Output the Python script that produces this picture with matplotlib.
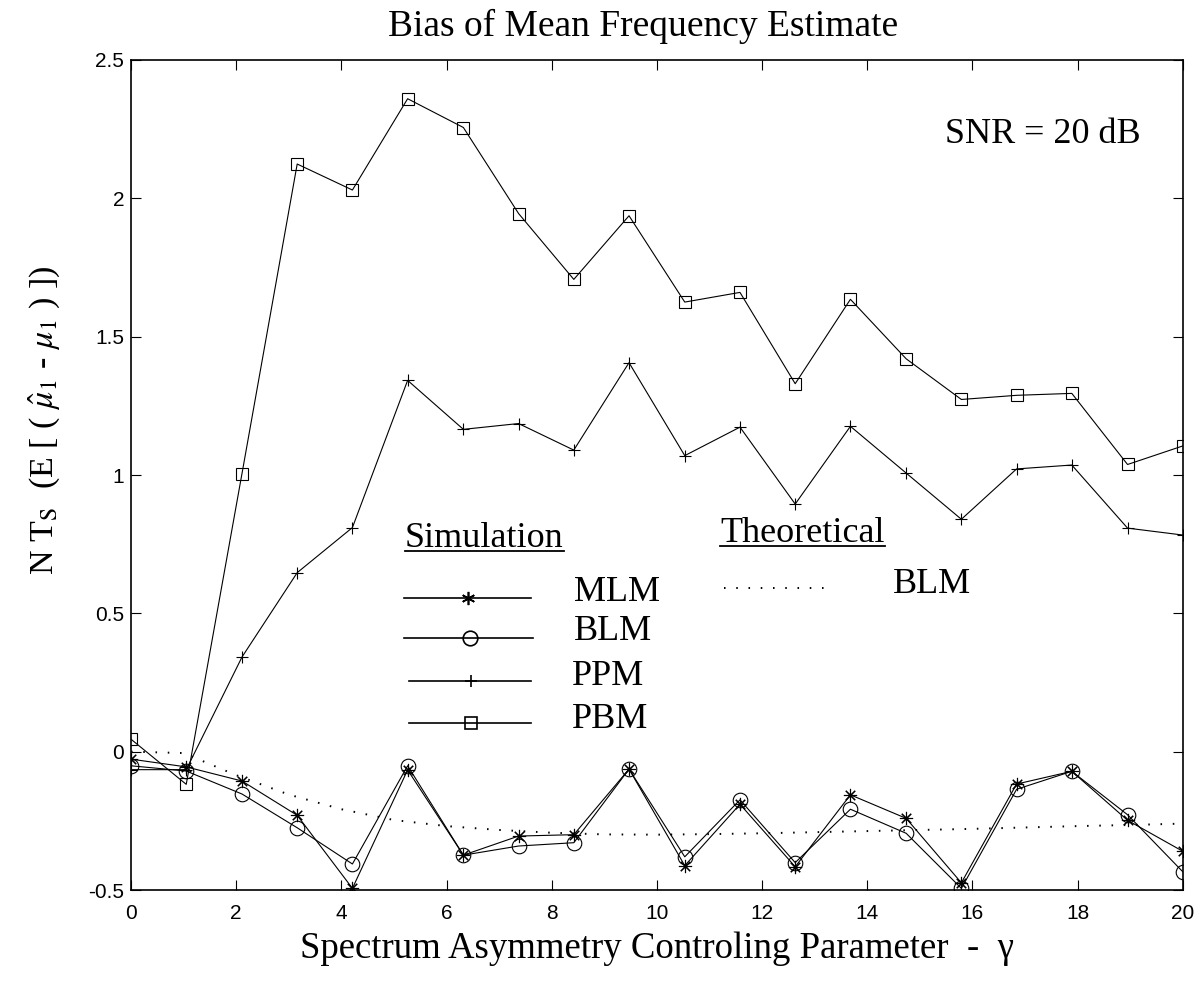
import numpy as np
import matplotlib
matplotlib.use("Agg")
import matplotlib.pyplot as plt
from matplotlib.ticker import FormatStrFormatter

plt.rcParams["axes.unicode_minus"] = False
plt.rcParams["mathtext.fontset"] = "stix"

SERIF = "Liberation Serif"
SANS = "Liberation Sans"

# asymmetry parameter gamma (20 simulation points between 0 and 20)
GAMMA = [0, 1.05, 2.11, 3.16, 4.21, 5.26, 6.32, 7.37, 8.42, 9.47,
         10.53, 11.58, 12.63, 13.68, 14.74, 15.79, 16.84, 17.89, 18.95, 20]

# simulated bias, N*Ts*(E[mu1_hat - mu1])
MLM = [-0.027, -0.055, -0.106, -0.23, -0.494, -0.066, -0.374, -0.305, -0.30, -0.063,
       -0.412, -0.19, -0.416, -0.156, -0.241, -0.474, -0.117, -0.071, -0.248, -0.36]
BLM = [-0.051, -0.07, -0.153, -0.275, -0.406, -0.051, -0.374, -0.341, -0.329, -0.063,
       -0.38, -0.174, -0.401, -0.208, -0.295, -0.494, -0.136, -0.071, -0.228, -0.434]
PPM = [-0.065, -0.065, 0.342, 0.647, 0.81, 1.342, 1.165, 1.186, 1.09, 1.406,
       1.07, 1.173, 0.895, 1.176, 1.007, 0.84, 1.022, 1.036, 0.808, 0.783]
PBM = [0.045, -0.118, 1.005, 2.124, 2.03, 2.36, 2.256, 1.945, 1.707, 1.937,
       1.625, 1.66, 1.33, 1.635, 1.42, 1.273, 1.288, 1.295, 1.038, 1.105]

# theoretical BLM bias
GAMMA_TH = list(range(0, 21))
BLM_TH = [0.0, -0.005, -0.085, -0.155, -0.208, -0.247, -0.269, -0.283, -0.293, -0.299,
          -0.300, -0.298, -0.295, -0.291, -0.287, -0.283, -0.279, -0.274, -0.269, -0.265,
          -0.260]

XTICKS = list(range(0, 21, 2))
YTICKS = [-0.5, 0, 0.5, 1, 1.5, 2, 2.5]

ASTER = (8, 2, 0)
STYLES = {
    "MLM": dict(marker=ASTER, ms=9.5),
    "BLM": dict(marker="o", ms=10.5),
    "PPM": dict(marker="+", ms=9),
    "PBM": dict(marker="s", ms=8.5),
}
LINE = dict(color="black", lw=0.8, mfc="none", mec="black", mew=0.8)
DOTTED = dict(color="black", lw=1.4, ls=(0, (0.8, 5.5)))
TXT = dict(family=SERIF, fontsize=26)


def main():
    fig = plt.figure(figsize=(12.02, 9.9), dpi=100)
    ax = fig.add_axes([0.109, 0.101, 0.875, 0.8384])

    ax.plot(GAMMA_TH, BLM_TH, **DOTTED)
    for name, vals in [("MLM", MLM), ("BLM", BLM), ("PPM", PPM), ("PBM", PBM)]:
        ax.plot(GAMMA, vals, **STYLES[name], **LINE)

    ax.set_xlim(0, 20)
    ax.set_ylim(-0.5, 2.5)
    ax.set_xticks(XTICKS)
    ax.set_yticks(YTICKS)
    ax.xaxis.set_major_formatter(FormatStrFormatter("%g"))
    ax.yaxis.set_major_formatter(FormatStrFormatter("%g"))
    ax.tick_params(direction="in", length=7, width=0.8, top=True, right=True,
                   labelsize=15)
    ax.tick_params(axis="x", pad=10)
    ax.tick_params(axis="y", pad=5)
    for lab in ax.get_xticklabels() + ax.get_yticklabels():
        lab.set_family(SANS)
    for sp in ax.spines.values():
        sp.set_linewidth(1.2)

    ax.set_xlabel("Spectrum Asymmetry Controling Parameter  -  \u03b3",
                  family=SERIF, fontsize=26.5)
    ax.xaxis.set_label_coords(0.5, -0.05)
    ax.set_ylabel(r"N T$_\mathrm{S}$  (E [ ( $\hat{\mu}_1$ - $\mu_1$ ) ])",
                  family=SERIF, fontsize=24.5)
    ax.yaxis.set_label_coords(-0.066, 0.566)
    fig.text(0.535, 0.9636, "Bias of Mean Frequency Estimate",
             ha="center", va="baseline", family=SERIF, fontsize=27)

    ax.text(0.7737, 0.9, "SNR = 20 dB", transform=ax.transAxes, va="baseline", **TXT)

    # hand-drawn legend, as in the original figure
    heads = [
        ax.text(0.2605, 0.4136, "Simulation", transform=ax.transAxes, va="baseline", **TXT),
        ax.text(0.5601, 0.4196, "Theoretical", transform=ax.transAxes, va="baseline", **TXT),
    ]
    entries = [
        ("MLM", 0.2596, 0.3801, 0.3521, 0.4215, 0.3486),
        ("BLM", 0.2596, 0.3826, 0.3040, 0.4215, 0.3012),
        ("PPM", 0.2646, 0.3801, 0.2518, 0.4191, 0.2470),
        ("PBM", 0.2646, 0.3801, 0.2008, 0.4191, 0.1948),
    ]
    for name, x0, x1, y, tx, ty in entries:
        st = dict(STYLES[name])
        if name == "MLM":
            st["marker"] = (6, 2, 0)
        ax.plot([x0, 0.5 * (x0 + x1) + 0.001, x1], [y, y, y], transform=ax.transAxes,
                markevery=[1], clip_on=False, **st,
                **{**LINE, "lw": 1.2, "mew": 1.2})
        ax.text(tx, ty, name, transform=ax.transAxes, va="baseline", **TXT)
    ax.plot([0.5639, 0.6675], [0.3635, 0.3635], transform=ax.transAxes, clip_on=False,
            **DOTTED)
    ax.text(0.7243, 0.3575, "BLM", transform=ax.transAxes, va="baseline", **TXT)

    # underline the two legend headers
    fig.canvas.draw()
    inv = ax.transAxes.inverted()
    for t in heads:
        bb = t.get_window_extent()
        (xa, _), (xb, _) = inv.transform([(bb.x0, 0), (bb.x1, 0)])
        _, base = t.get_position()
        ax.plot([xa, xb], [base - 0.0055, base - 0.0055], transform=ax.transAxes,
                color="black", lw=1.3, clip_on=False)

    fig.savefig("out.png", dpi=100)
    plt.close(fig)


if __name__ == "__main__":
    main()
